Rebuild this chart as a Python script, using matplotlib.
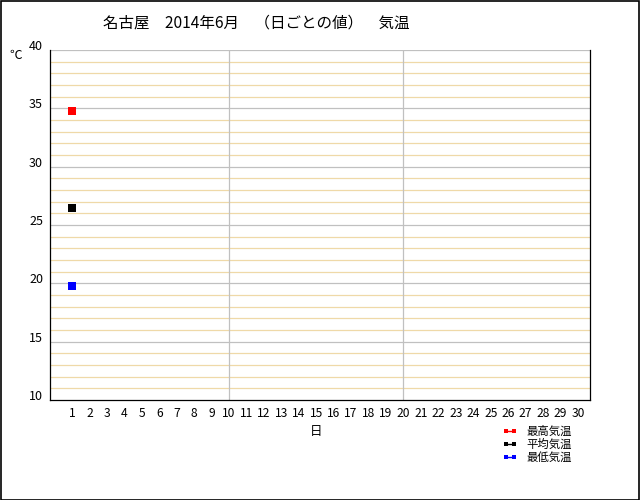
import matplotlib
matplotlib.use("Agg")
import matplotlib.pyplot as plt
from matplotlib.lines import Line2D
from matplotlib.patches import Rectangle

plt.rcParams['font.family'] = ['Noto Sans CJK JP', 'DejaVu Sans']

# 名古屋 2014年6月 日ごとの気温
days = list(range(1, 31))
series_names = ['最高気温', '平均気温', '最低気温']
series_colors = ['#FF0000', '#000000', '#0000FF']
obs_days = [1]
max_temp = [34.8]
avg_temp = [26.5]
min_temp = [19.8]
series_values = [max_temp, avg_temp, min_temp]

y_min, y_max = 10, 40
title = '名古屋\u30002014年6月\u3000（日ごとの値）\u3000気温'

fig = plt.figure(figsize=(6.4, 5.0), dpi=100)
ax = fig.add_axes([50 / 640, 100 / 500, 540 / 640, 350 / 500])

# 横線: 5度ごとに灰色, それ以外は薄いオレンジ
for t in range(y_min + 1, y_max + 1):
    c = '#C0C0C0' if t % 5 == 0 else '#EFD9A8'
    ax.axhline(t, color=c, linewidth=0.9, zorder=1)
for d in (10, 20):
    ax.axvline(d, color='#C0C0C0', linewidth=0.9, zorder=1)

for vals, c in zip(series_values, series_colors):
    ax.plot(obs_days, vals, '-s', color=c, markersize=5.8,
            markeredgewidth=0, linewidth=1, zorder=3)

ax.set_xlim(-0.26, 30.69)
ax.set_ylim(y_min, y_max)
ax.set_xticks(days)
ax.set_xticklabels([str(d) for d in days], fontsize=8.7)
ax.set_yticks(range(y_min, y_max + 1, 5))
ax.set_yticklabels([str(v) for v in range(y_min, y_max + 1, 5)], fontsize=9)
for lab in ax.get_yticklabels():
    lab.set_verticalalignment('baseline')
ax.tick_params(axis='both', length=0)
ax.tick_params(axis='x', pad=5)
ax.tick_params(axis='y', pad=5)
ax.spines['top'].set_visible(False)
for s in ('left', 'right', 'bottom'):
    ax.spines[s].set_linewidth(0.9)

fig.text(256 / 640, 1 - 23 / 500, title, fontsize=11.2, ha='center', va='center')
fig.text(16 / 640, 1 - 55 / 500, '℃', fontsize=9, ha='center', va='center')
fig.text(316 / 640, 1 - 432 / 500, '日', fontsize=9, ha='center', va='center')

handles = [Line2D([0], [0], color=c, linewidth=1.0, marker='s', markersize=2.5,
                  markeredgewidth=0) for c in series_colors]
fig.legend(handles, series_names, loc='upper left',
           bbox_to_anchor=(503 / 640, 1 - 426 / 500), frameon=False,
           fontsize=8.2, handlelength=1.25, handletextpad=0.8, labelspacing=0.15,
           borderpad=0, borderaxespad=0, numpoints=2)

fig.add_artist(Rectangle((0.5 / 640, 0.5 / 500), 638.5 / 640, 499 / 500,
                         transform=fig.transFigure, fill=False,
                         edgecolor='black', linewidth=1.2))

fig.savefig('out.png', dpi=100)
